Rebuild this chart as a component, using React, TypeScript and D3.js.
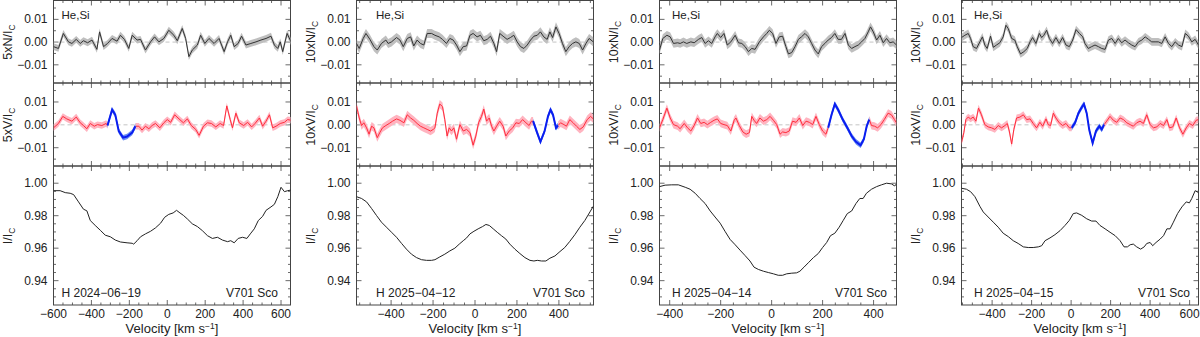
import React from "react";
import * as d3 from "d3";

type Pt = [number, number];

// ---- 2024-06-19 (5x) ----
const n1: Pt[] = [[-600,-0.002],[-574,-0.0028],[-548,0.0038],[-521,0.0001],[-503,-0.0006],[-480,0.0012],[-459,-0.0006],[-442,0.0006],[-420,-0.0003],[-397,0.0009],[-371,-0.0032],[-357,0.0045],[-336,-0.002],[-315,-0.0006],[-291,0.0016],[-265,0.0004],[-247,0.003],[-226,0.0012],[-203,-0.0028],[-185,0.003],[-159,0.0009],[-141,0.0012],[-115,-0.0035],[-88,0.0001],[-67,0.0023],[-44,0.0001],[-18,0.0016],[8,0.0052],[35,0.003],[53,0.0006],[79,0.006],[97,0.0016],[114,-0.0064],[132,-0.0035],[159,-0.0013],[176,0.003],[198,-0.0006],[220,0.0016],[247,-0.0006],[273,0.0016],[300,-0.0042],[318,0.0001],[335,0.003],[353,-0.002],[374,-0.0006],[392,0.0026],[415,-0.0013],[441,-0.0006],[468,0.0001],[494,0.0009],[521,0.0016],[547,0.0026],[565,-0.0013],[583,-0.0028],[596,0.0001],[609,-0.0042],[632,0.0038],[653,0.0001]];
const v1: Pt[] = [[-600,-0.0013],[-574,0.0006],[-551,0.0037],[-530,0.0026],[-503,0.0016],[-480,0.0034],[-459,0.0009],[-442,-0.0003],[-424,-0.0017],[-406,0.0006],[-385,-0.0006],[-368,0.0001],[-345,-0.0003],[-322,0.0006],
  [-315,-0.0003],[-291,0.0066],[-274,0.0044],[-256,-0.0027],[-233,-0.0056],[-212,-0.0051],[-185,-0.0034],[-168,-0.0006],
  [-150,-0.0006],[-133,-0.0023],[-115,-0.0006],[-97,-0.0017],[-80,-0.0003],[-62,0.0006],[-39,-0.0013],[-18,0.0009],[0,0.0023],[18,0.0011],[39,0.0044],[62,0.0026],[85,0.0009],[106,0.0026],[127,-0.0003],[150,-0.002],[168,-0.0046],[191,-0.0006],[212,0.0009],[233,0.0006],[256,-0.0009],[279,0.0006],[297,-0.0003],[314,0.0083],[332,0.0023],[344,-0.0013],[362,0.0051],[380,0.0009],[403,-0.0003],[424,0.0011],[445,-0.0009],[463,0.0006],[486,0.003],[503,-0.0006],[521,0.0016],[539,0.0044],[556,-0.0013],[574,-0.0006],[596,0.0006],[618,0.0011],[635,0.0023],[653,0.002]];
const i1: Pt[] = [[-600,0.9954],[-565,0.9954],[-538,0.9942],[-512,0.9938],[-494,0.993],[-468,0.9885],[-442,0.984],[-424,0.983],[-406,0.977],[-380,0.974],[-353,0.971],[-327,0.968],[-300,0.967],[-274,0.965],[-247,0.9638],[-212,0.9633],[-185,0.963],[-177,0.9625],[-159,0.9646],[-141,0.967],[-115,0.9688],[-88,0.9704],[-62,0.9725],[-35,0.9754],[-14,0.979],[8,0.9808],[31,0.9817],[49,0.9833],[67,0.9817],[85,0.9802],[106,0.978],[132,0.975],[159,0.9733],[185,0.9708],[212,0.9677],[238,0.966],[265,0.9667],[291,0.965],[318,0.964],[335,0.9646],[353,0.9633],[374,0.966],[397,0.9667],[420,0.966],[438,0.9688],[459,0.9719],[480,0.977],[503,0.9796],[521,0.9833],[547,0.9854],[565,0.987],[583,0.9917],[600,0.9975],[618,0.9948],[635,0.9954],[653,0.9958]];

// ---- 2025-04-12 (10x) ----
const n2: Pt[] = [[-565,-0.0006],[-552,-0.0028],[-533,0.0016],[-520,0.0038],[-501,0.0012],[-482,-0.002],[-466,-0.0035],[-446,-0.0006],[-425,0.0009],[-414,-0.0006],[-398,0.0001],[-374,0.002],[-358,0.0009],[-342,-0.002],[-323,0.0016],[-307,0.0023],[-292,-0.0017],[-276,0.0009],[-260,-0.0006],[-244,-0.0013],[-228,0.0038],[-207,0.0038],[-191,0.003],[-171,0.0023],[-155,0.0012],[-136,-0.0006],[-120,0.0016],[-104,0.0009],[-88,-0.0013],[-72,-0.0042],[-56,-0.002],[-40,-0.0017],[-24,0.003],[-9,0.0038],[10,0.0023],[26,0.003],[42,0.0006],[58,0.0012],[74,0.0026],[90,-0.0006],[103,-0.0042],[118,0.0038],[138,0.0023],[153,0.0012],[169,0.002],[185,0.003],[201,0.0001],[217,-0.002],[233,-0.0028],[249,-0.0013],[265,0.0009],[281,0.0026],[297,0.003],[312,0.0045],[328,0.0023],[344,0.0012],[357,0.0045],[370,0.002],[386,0.0067],[401,0.0038],[417,-0.0006],[433,-0.0042],[449,-0.002],[465,-0.0006],[481,0.0001],[497,-0.0006],[513,-0.0035],[529,-0.0006],[544,0.0016],[564,0.0001]];
const v2: Pt[] = [[-565,0.0083],[-552,0.003],[-541,-0.0003],[-530,0.0009],[-517,-0.0013],[-505,-0.0041],[-493,-0.0006],[-482,-0.0013],[-466,-0.0056],[-454,-0.0034],[-441,-0.0013],[-425,-0.0003],[-409,0.0006],[-393,0.0016],[-374,0.0026],[-358,0.002],[-339,0.0009],[-323,0.0044],[-307,0.003],[-292,0.002],[-276,0.0006],[-260,-0.0006],[-244,-0.0013],[-228,-0.002],[-212,-0.0027],[-199,-0.002],[-191,-0.0013],[-180,0.0051],[-168,0.0091],[-155,0.008],[-144,0.0023],[-133,-0.0049],[-123,-0.0013],[-112,-0.0027],[-101,-0.0013],[-88,-0.0063],[-72,0.0001],[-56,-0.0027],[-40,-0.002],[-24,-0.0034],[-9,-0.0089],[4,-0.0049],[17,0.0009],[31,0.0037],[42,0.0069],[55,0.0016],[68,0.003],[79,-0.0006],[90,-0.0027],[103,-0.0006],[118,0.0016],[134,-0.0006],[147,-0.0049],[163,-0.0027],[180,-0.0013],[195,0.0009],[211,0.0006],[227,0.0023],[243,0.0009],[258,-0.0003],[269,0.0016],
  [277,0.0016],[296,-0.0034],[312,-0.0074],[332,-0.0027],[348,0.0037],[360,0.0066],[372,0.0044],[386,-0.0013],[396,-0.0003],
  [408,0.0009],[424,0.0001],[436,-0.0006],[452,0.0023],[468,0.0009],[484,-0.0006],[500,-0.002],[516,-0.0009],[535,0.0023],[551,0.0037],[564,0.0026]];
const i2: Pt[] = [[-565,0.9917],[-541,0.9906],[-517,0.9885],[-493,0.9844],[-470,0.9802],[-446,0.976],[-422,0.9729],[-398,0.9698],[-374,0.9667],[-350,0.9629],[-327,0.9594],[-303,0.9563],[-279,0.9542],[-255,0.9529],[-231,0.9525],[-207,0.9525],[-191,0.9529],[-168,0.9546],[-144,0.9563],[-120,0.9583],[-96,0.96],[-75,0.9625],[-56,0.9646],[-40,0.9663],[-24,0.9688],[-5,0.9704],[15,0.9719],[36,0.9733],[52,0.9746],[68,0.974],[87,0.9719],[106,0.9698],[126,0.9677],[147,0.9656],[166,0.9625],[190,0.9594],[214,0.9567],[238,0.9542],[262,0.9525],[281,0.9521],[297,0.9525],[317,0.9521],[338,0.9521],[357,0.9538],[381,0.9552],[405,0.9579],[428,0.9604],[452,0.9642],[476,0.9683],[500,0.9729],[524,0.9771],[548,0.9823],[564,0.9858]];

// ---- 2025-04-14 (10x) ----
const n3: Pt[] = [[-440,-0.0035],[-427,0.0016],[-411,0.003],[-398,0.0023],[-385,-0.0006],[-369,-0.0003],[-359,-0.0006],[-346,0.0001],[-333,-0.0006],[-317,0.0001],[-304,-0.0003],[-287,0.0012],[-274,0.002],[-261,-0.0006],[-248,0.0006],[-235,-0.0006],[-222,0.0023],[-213,0.0038],[-200,0.002],[-187,0.0038],[-174,-0.0013],[-160,0.0001],[-143,0.003],[-130,-0.0003],[-117,-0.0006],[-104,-0.002],[-91,-0.0042],[-78,-0.0028],[-65,-0.0032],[-48,0.0001],[-32,0.0023],[-19,0.0038],[-9,0.0052],[4,0.0038],[17,-0.0006],[30,0.0023],[43,0.0026],[56,-0.002],[66,-0.0052],[79,-0.0046],[92,-0.002],[105,0.0012],[117,0.0023],[131,0.0038],[144,0.0023],[157,-0.0006],[170,-0.0035],[183,-0.0052],[196,-0.002],[209,-0.0006],[222,0.0009],[235,0.002],[248,0.0038],[261,0.0012],[274,0.0012],[288,0.0038],[301,-0.0013],[314,-0.0028],[327,-0.002],[340,-0.0013],[353,0.0001],[366,0.0016],[379,0.0045],[388,0.0067],[399,0.0045],[412,0.0009],[425,0.003],[438,-0.0003],[451,0.0016],[464,-0.0003],[477,0.0001],[490,-0.0013]];
const v3: Pt[] = [[-440,-0.0013],[-427,0.0023],[-411,0.0073],[-398,0.003],[-385,0.0001],[-369,-0.0006],[-359,-0.0017],[-343,0.0006],[-330,-0.0013],[-317,-0.0027],[-304,-0.0003],[-291,0.003],[-278,0.0006],[-265,0.0011],[-252,0.0001],[-239,0.0011],[-226,0.002],[-213,0.0026],[-200,0.0006],[-187,0.0001],[-174,-0.0003],[-160,-0.0027],[-147,0.002],[-140,0.003],[-127,-0.0003],[-113,-0.0031],[-100,-0.0041],[-87,-0.0034],[-78,0.0037],[-69,0.002],[-59,0.0006],[-46,0.003],[-32,0.0016],[-19,0.0023],[-6,0.0037],[7,0.002],[20,0.0001],[33,-0.0041],[43,-0.0031],[56,-0.0034],[69,-0.0027],[82,0.0016],[96,0.0011],[109,0.003],[122,-0.0003],[135,0.0016],[148,0.0011],[161,0.0001],[174,0.0037],[187,0.0001],[200,-0.0027],[213,-0.0041],
  [222,-0.0013],[235,0.0044],[248,0.0091],[261,0.0066],[279,0.0023],[297,-0.0013],[314,-0.0049],[331,-0.0074],[349,-0.0089],[362,-0.0063],[373,-0.0006],[383,0.0023],
  [392,-0.0003],[404,-0.0006],[416,-0.0013],[429,0.0001],[442,0.0023],[457,0.0051],[470,0.0044],[482,0.0023],[490,0.0009]];
const i3: Pt[] = [[-440,0.9979],[-418,0.9988],[-392,0.999],[-366,0.999],[-339,0.9975],[-320,0.9963],[-300,0.9938],[-281,0.9906],[-261,0.9875],[-241,0.9829],[-222,0.9792],[-202,0.9754],[-183,0.9704],[-163,0.9654],[-143,0.9621],[-124,0.9588],[-104,0.9554],[-85,0.9521],[-69,0.9483],[-52,0.9469],[-32,0.9458],[-13,0.945],[7,0.9442],[26,0.9433],[43,0.9433],[59,0.9442],[79,0.9446],[98,0.9448],[111,0.9458],[127,0.9483],[144,0.951],[164,0.9542],[183,0.9567],[200,0.9604],[216,0.9635],[231,0.9677],[248,0.9692],[265,0.9729],[281,0.9771],[297,0.9813],[314,0.9829],[331,0.9875],[346,0.9906],[359,0.9906],[372,0.9938],[392,0.9963],[412,0.9979],[431,0.999],[451,1.0],[470,0.9996],[483,0.9983],[490,0.9996]];

// ---- 2025-04-15 (10x) ----
const n4: Pt[] = [[-555,0.002],[-538,0.003],[-521,0.0038],[-509,0.0016],[-496,-0.002],[-479,-0.0028],[-462,0.0001],[-449,0.0023],[-437,-0.0013],[-425,-0.0028],[-408,0.0026],[-394,-0.0023],[-378,-0.0013],[-361,-0.0003],[-344,0.0023],[-330,0.0074],[-318,0.0059],[-301,0.0016],[-285,0.0009],[-273,-0.002],[-256,-0.0052],[-239,-0.0042],[-222,-0.0028],[-208,0.0001],[-195,0.002],[-178,-0.0006],[-161,0.0038],[-149,0.002],[-138,0.003],[-124,0.0052],[-110,0.0016],[-94,-0.0006],[-77,0.002],[-60,-0.0006],[-43,0.002],[-26,-0.0013],[-9,-0.002],[8,0.0009],[25,0.0055],[42,0.0038],[59,0.0023],[70,-0.0006],[87,-0.0028],[104,-0.002],[121,-0.0013],[138,-0.002],[155,-0.0028],[172,-0.0032],[189,0.0009],[206,0.0016],[223,-0.0006],[239,0.0016],[256,-0.0003],[273,0.0009],[290,-0.0003],[307,-0.0013],[324,-0.002],[341,0.0001],[358,0.0009],[375,0.0023],[392,0.0012],[408,0.0001],[425,0.0001],[442,0.0001],[459,-0.0006],[476,0.0023],[493,-0.0006],[510,-0.002],[527,0.0001],[544,-0.0013],[561,-0.002],[578,0.0038],[594,0.0026],[611,0.0001],[628,0.0012],[645,-0.0013]];
const v4: Pt[] = [[-555,-0.0077],[-543,-0.0034],[-533,0.0023],[-521,0.0034],[-509,0.0026],[-496,0.0034],[-482,0.0016],[-469,0.0073],[-454,0.0044],[-437,0.0001],[-420,-0.0009],[-403,-0.0013],[-386,-0.002],[-369,-0.0003],[-352,-0.0013],[-335,-0.0003],[-323,0.0006],[-313,-0.0027],[-301,-0.0084],[-290,-0.002],[-276,0.003],[-259,0.0034],[-242,0.0044],[-225,0.0023],[-208,0.0026],[-192,0.0006],[-175,-0.0013],[-158,0.0011],[-144,-0.0006],[-127,0.0026],[-116,0.0001],[-104,-0.0003],[-90,0.0051],[-77,0.003],[-60,0.0009],[-43,-0.0003],[-26,0.0006],[-9,-0.0013],
  [3,-0.0013],[20,0.0009],[37,0.0051],[54,0.0077],[65,0.0091],[79,0.0051],[92,-0.0023],[109,-0.008],[126,-0.0027],[143,-0.0006],[155,-0.002],[167,0.0001],
  [180,0.0016],[197,0.0037],[214,0.002],[231,0.0011],[248,0.003],[265,0.0023],[282,0.0009],[299,0.0001],[315,-0.0006],[332,0.0009],[349,0.0016],[366,0.0006],[383,0.0044],[400,0.0001],[417,-0.0013],[434,-0.0009],[451,0.0006],[468,-0.0003],[485,0.0023],[498,-0.0013],[515,-0.0009],[532,0.003],[549,-0.0013],[566,-0.0041],[583,-0.0013],[599,0.0006],[616,-0.0003],[633,0.002],[645,0.0023]];
const i4: Pt[] = [[-555,0.9969],[-530,0.9963],[-509,0.9948],[-487,0.9917],[-462,0.9858],[-445,0.9823],[-420,0.9792],[-394,0.976],[-369,0.9729],[-344,0.9692],[-318,0.9671],[-293,0.9646],[-268,0.9629],[-242,0.9608],[-217,0.9604],[-192,0.9604],[-166,0.9608],[-149,0.9615],[-132,0.9646],[-107,0.9663],[-82,0.9683],[-56,0.9708],[-31,0.974],[-9,0.9771],[11,0.9813],[28,0.9817],[54,0.9802],[79,0.9781],[104,0.9767],[126,0.9767],[146,0.974],[172,0.9719],[197,0.9698],[223,0.9677],[248,0.9646],[268,0.9608],[285,0.9608],[299,0.9621],[315,0.9625],[332,0.9608],[352,0.9594],[370,0.9608],[383,0.9629],[400,0.9635],[413,0.9615],[430,0.9635],[451,0.9656],[468,0.9677],[485,0.9719],[501,0.9719],[518,0.976],[539,0.9813],[561,0.9854],[583,0.9885],[599,0.9879],[611,0.9906],[628,0.9954],[645,0.9942]];

const dates = ["H 2024\u221206\u221219", "H 2025\u221204\u221212", "H 2025\u221204\u221214", "H 2025\u221204\u221215"];
const factors = ["5x", "10x", "10x", "10x"];
const velRanges: Pt[] = [[-600, 650], [-565, 565], [-440, 490], [-555, 645]];
const blueRanges: Pt[] = [[-315, -168], [277, 396], [222, 383], [3, 167]];
const nErr = [0.0015, 0.002, 0.0019, 0.0017];
const vErr = [0.0014, 0.0018, 0.0017, 0.0015];
const blueErr = 0.0012;
const velTicks = [-600, -400, -200, 0, 200, 400, 600];
const stokesTicks = [-0.01, 0, 0.01];
const intTicks = [0.94, 0.96, 0.98, 1.0];
const starName = "V701 Sco";
const lineLabel = "He,Si";

const nData = [n1, n2, n3, n4];
const vData = [v1, v2, v3, v4];
const iData = [i1, i2, i3, i4];

// layout
const W = 1200, H = 337;
const lefts = [53.5, 356.5, 659.5, 961.5];
const PW = 237;
const rowN: Pt = [83, 0.5];
const rowV: Pt = [166, 83];
const rowI: Pt = [305, 166];
const textDx = [8, 19.5, 12.5, 12.5];
const starDx = [12.5, 8.5, 9.5, 8.5];
const FONT = "'Liberation Sans', Arial, Helvetica, sans-serif";
const fmtVel = (t: number) => (t < 0 ? "\u2212" + Math.abs(t) : String(t));
const fmt2 = (t: number) => (t < 0 ? "\u2212" + d3.format(".2f")(-t) : d3.format(".2f")(Math.abs(t)));

function Box({ xs, ys, xMajor, xMinor, yMajor, yMinor, id }: any) {
  const [x0, x1] = xs.range();
  const [yb, yt] = ys.range();
  const segs: number[][] = [];
  xMajor.forEach((t: number) => { const p = xs(t); segs.push([p, yb, p, yb - 5], [p, yt, p, yt + 5]); });
  xMinor.forEach((t: number) => { const p = xs(t); segs.push([p, yb, p, yb - 2.5], [p, yt, p, yt + 2.5]); });
  yMajor.forEach((t: number) => { const p = ys(t); segs.push([x0, p, x0 + 5, p], [x1, p, x1 - 5, p]); });
  yMinor.forEach((t: number) => { const p = ys(t); segs.push([x0, p, x0 + 2.5, p], [x1, p, x1 - 2.5, p]); });
  return (
    <g>
      <clipPath id={id}><rect x={x0} y={yt} width={x1 - x0} height={yb - yt} /></clipPath>
      {segs.map((s, k) => <line key={k} x1={s[0]} y1={s[1]} x2={s[2]} y2={s[3]} stroke="#444" strokeWidth={0.8} />)}
      <rect x={x0} y={yt} width={x1 - x0} height={yb - yt} fill="none" stroke="#444" strokeWidth={1} />
    </g>
  );
}

function Stokes({ data, err, blue, xs, ys, clip, lineColor, bandColor, split }: any) {
  const area = d3.area<Pt>().x(d => xs(d[0])).y0(d => ys(d[1] - err)).y1(d => ys(d[1] + err));
  const line = d3.line<Pt>().x(d => xs(d[0])).y(d => ys(d[1]));
  const parts: Pt[][] = split
    ? [data.filter((d: Pt) => d[0] <= blue[0]), data.filter((d: Pt) => d[0] >= blue[1])]
    : [data];
  const blueSeg: Pt[] = split ? data.filter((d: Pt) => d[0] >= blue[0] && d[0] <= blue[1]) : [];
  const blueArea = d3.area<Pt>().x(d => xs(d[0])).y0(d => ys(d[1] - blueErr)).y1(d => ys(d[1] + blueErr));
  return (
    <g clipPath={`url(#${clip})`}>
      <line x1={xs.range()[0]} x2={xs.range()[1]} y1={ys(0)} y2={ys(0)} stroke="#c4c4c4" strokeDasharray="4,3" strokeWidth={1} />
      {parts.map((p, k) => <path key={"a" + k} d={area(p) || ""} fill={bandColor} />)}
      {parts.map((p, k) => <path key={"l" + k} d={line(p) || ""} fill="none" stroke={lineColor} strokeWidth={1} />)}
      {split && <path d={blueArea(blueSeg) || ""} fill="#6a8ef5" />}
      {split && <path d={line(blueSeg) || ""} fill="none" stroke="#0a1ef0" strokeWidth={2} />}
    </g>
  );
}

function YLabel({ x, y, pre }: any) {
  return (
    <text transform={`translate(${x},${y}) rotate(-90)`} textAnchor="middle" fontSize={12.5} fill="#222">
      {pre}/I<tspan fontSize={8.5} dy={3}>C</tspan>
    </text>
  );
}

function Panel({ k }: { k: number }) {
  const x0 = lefts[k];
  const xs = d3.scaleLinear().domain(velRanges[k]).range([x0, x0 + PW]);
  const ysN = d3.scaleLinear().domain([-0.018, 0.0183]).range(rowN);
  const ysV = d3.scaleLinear().domain([-0.018, 0.0183]).range(rowV);
  const ysI = d3.scaleLinear().domain([0.925, 1.0106]).range(rowI);
  const [vmin, vmax] = velRanges[k];
  const xMajor = velTicks.filter(t => t >= vmin && t <= vmax);
  const xMinor = d3.range(-600, 701, 50).filter(t => t > vmin && t < vmax && t % 200 !== 0);
  const sMinor = [-0.015, -0.005, 0.005, 0.015];
  const iMinor = d3.range(0.93, 1.01, 0.005).filter(t => intTicks.every(m => Math.abs(m - t) > 1e-6));
  const line = d3.line<Pt>().x(d => xs(d[0])).y(d => ysI(d[1]));
  const right = x0 + PW;
  return (
    <g fontFamily={FONT}>
      <Box id={`cn${k}`} xs={xs} ys={ysN} xMajor={xMajor} xMinor={xMinor} yMajor={stokesTicks} yMinor={sMinor} />
      <Box id={`cv${k}`} xs={xs} ys={ysV} xMajor={xMajor} xMinor={xMinor} yMajor={stokesTicks} yMinor={sMinor} />
      <Box id={`ci${k}`} xs={xs} ys={ysI} xMajor={xMajor} xMinor={xMinor} yMajor={intTicks} yMinor={iMinor} />
      <Stokes data={nData[k]} err={nErr[k]} xs={xs} ys={ysN} clip={`cn${k}`} lineColor="#333" bandColor="#bfbfbf" split={false} />
      <Stokes data={vData[k]} err={vErr[k]} blue={blueRanges[k]} xs={xs} ys={ysV} clip={`cv${k}`} lineColor="#ff2d3c" bandColor="#ffb4c0" split={true} />
      <g clipPath={`url(#ci${k})`}>
        <path d={line(iData[k]) || ""} fill="none" stroke="#222" strokeWidth={1} />
      </g>
      {stokesTicks.map(t => (
        <g key={"s" + t} fontSize={12} fill="#222" textAnchor="end">
          <text x={x0 - 6} y={ysN(t) + 4}>{fmt2(t)}</text>
          <text x={x0 - 6} y={ysV(t) + 4}>{fmt2(t)}</text>
        </g>
      ))}
      {intTicks.map(t => (
        <text key={"i" + t} x={x0 - 6} y={ysI(t) + 4} fontSize={12} fill="#222" textAnchor="end">{fmt2(t)}</text>
      ))}
      {xMajor.map(t => (
        <text key={"x" + t} x={xs(t)} y={318} fontSize={12} fill="#222" textAnchor="middle">{fmtVel(t)}</text>
      ))}
      <text x={x0 + PW / 2} y={333} fontSize={13} fill="#222" textAnchor="middle">
        Velocity [km s<tspan fontSize={8.5} dy={-4.5}>{"\u22121"}</tspan><tspan dy={4.5}>]</tspan>
      </text>
      <YLabel x={x0 - 42} y={42} pre={`${factors[k]}N`} />
      <YLabel x={x0 - 42} y={125} pre={`${factors[k]}V`} />
      <YLabel x={x0 - 42} y={236} pre="I" />
      <text x={x0 + textDx[k]} y={19} fontSize={11.5} fill="#222">{lineLabel}</text>
      <text x={x0 + textDx[k]} y={296.5} fontSize={12} fill="#222">{dates[k]}</text>
      <text x={right - starDx[k]} y={296.5} fontSize={12} fill="#222" textAnchor="end">{starName}</text>
    </g>
  );
}

export default function App() {
  return (
    <svg width={W} height={H} style={{ position: "absolute", left: 0, top: 0, background: "#fff" }}>
      <rect width={W} height={H} fill="#fff" />
      {[0, 1, 2, 3].map(k => <Panel key={k} k={k} />)}
    </svg>
  );
}
